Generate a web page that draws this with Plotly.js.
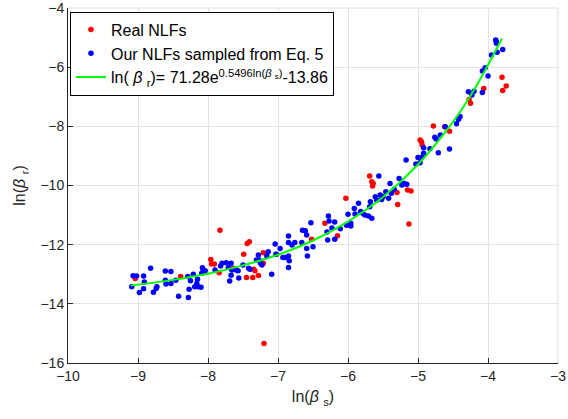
<!DOCTYPE html>
<html>
<head>
<meta charset="utf-8">
<script src="https://cdn.plot.ly/plotly-3.0.1.min.js"></script>
<style>
  html, body { margin: 0; padding: 0; background: #ffffff; }
  #chart { width: 568px; height: 419px; }
</style>
</head>
<body>
<div id="chart"></div>
<script>
// Real NLFs (red points): ln(beta_s), ln(beta_r)
const realX = [-9.04,-8.39,-7.96,-7.91,-7.95,-7.83,-7.84,-7.64,-7.49,-7.45,-7.44,-7.41,-7.36,-7.35,-7.33,-7.28,-7.21,-7.21,-7.20,-7.02,
  -6.52,-6.33,-6.15,-6.03,-5.69,-5.66,-5.65,-5.64,-5.30,-5.29,-5.15,-5.10,-5.13,-4.78,-4.97,-4.95,-4.94,-4.62,-4.55,-4.27,-4.25,-4.06,-3.80,-3.74,-3.79];
const realY = [-13.14,-13.08,-12.50,-12.65,-12.65,-11.51,-12.95,-12.80,-12.32,-13.11,-11.96,-11.90,-13.11,-12.83,-12.88,-13.04,-12.27,-12.63,-15.34,-12.32,
  -11.82,-11.28,-11.70,-10.43,-9.68,-9.87,-10.02,-9.93,-10.24,-10.64,-10.15,-10.19,-11.30,-7.99,-8.46,-8.52,-8.63,-8.01,-8.17,-7.09,-7.22,-6.72,-6.34,-6.64,-6.79];

// Our NLFs sampled from Eq. 5 (blue points)
const oursX = [-9.09,-9.07,-9.02,-8.92,-8.91,-8.92,-8.98,-8.82,-8.78,-8.74,-8.73,-8.61,-8.53,-8.60,-8.61,-8.53,-8.46,-8.42,-8.28,-8.27,
  -8.29,-8.25,-8.21,-8.19,-8.16,-8.14,-8.10,-8.15,-8.08,-8.09,-8.07,-8.04,-7.90,-7.82,-7.80,-7.74,-7.71,-7.69,-7.67,-7.67,
  -7.66,-7.60,-7.57,-7.56,-7.50,-7.42,-7.40,-7.31,-7.28,-7.27,-7.25,-7.23,-7.16,-7.14,-7.09,-7.03,-7.04,-6.97,-6.93,-6.90,
  -6.85,-6.85,-6.85,-6.84,-6.85,-6.80,-6.76,-6.66,-6.65,-6.61,-6.59,-6.59,-6.58,-6.53,-6.50,
  -6.28,-6.27,-6.19,-6.29,-6.19,-6.11,-6.02,-6.00,-5.96,-5.96,-5.91,-5.90,-5.85,-5.82,-5.79,-5.76,-5.71,-5.69,-5.68,-5.66,
  -5.61,-5.59,-5.56,-5.54,-5.52,-5.50,-5.46,-5.42,-5.40,-5.38,-5.34,-5.27,-5.23,-5.20,-5.17,-5.16,-5.03,-5.00,-4.95,-4.97,
  -4.92,-6.30,-6.23,
  -4.92,-4.83,-4.76,-4.74,-4.71,-4.68,-4.61,-4.55,-4.45,-4.42,-4.40,-4.28,-4.23,-4.20,-4.08,-4.08,-4.04,-4.00,-3.95,-3.89,
  -3.88,-3.88,-3.87,-3.79];
const oursY = [-13.42,-13.05,-13.06,-13.06,-13.26,-13.49,-13.62,-12.80,-13.61,-13.48,-13.42,-12.89,-12.91,-13.33,-13.20,-13.31,-13.20,-13.74,-13.79,-13.51,
  -13.08,-13.22,-13.00,-13.42,-13.31,-13.42,-13.44,-13.17,-12.78,-12.97,-12.89,-12.88,-12.86,-12.72,-12.63,-12.61,-12.77,-13.23,-12.63,-13.03,
  -12.86,-12.86,-12.88,-13.13,-12.69,-12.80,-12.83,-12.52,-12.35,-12.52,-12.63,-12.69,-12.38,-12.24,-13.00,-12.32,-11.98,-12.13,-12.43,-12.43,
  -11.71,-11.93,-12.38,-12.54,-12.77,-12.01,-11.93,-11.93,-11.51,-11.53,-11.67,-12.13,-12.38,-11.26,-12.07,
  -11.03,-11.20,-11.23,-11.84,-11.82,-11.46,-11.34,-10.97,-11.28,-11.37,-10.78,-10.96,-10.60,-10.88,-10.94,-11.00,-11.03,-10.72,-10.55,-11.11,
  -10.38,-10.49,-9.68,-10.32,-10.47,-10.38,-10.21,-10.43,-9.93,-10.26,-10.13,-9.76,-9.98,-9.93,-9.14,-9.96,-9.27,-9.05,-9.05,-9.23,
  -8.91,-11.57,-11.44,
  -8.72,-8.76,-8.37,-8.43,-8.89,-8.29,-8.01,-8.77,-7.91,-7.76,-7.67,-6.83,-6.94,-6.81,-6.13,-6.86,-6.02,-6.30,-5.59,-5.08,
  -5.14,-5.19,-5.50,-5.40];

// Fitted curve
const fitX = [-9.10,-8.50,-8.00,-7.50,-7.00,-6.50,-6.00,-5.50,-5.00,-4.50,-4.20,-3.80];
const fitY = [-13.38,-13.19,-12.98,-12.70,-12.34,-11.86,-11.22,-10.39,-9.29,-7.85,-6.77,-5.03];

const fitLabel = 'ln( <i>β</i> <sub>r</sub>)= 71.28e<sup>0.5496ln(<i>β</i> <sub>s</sub>)</sup>-13.86';

const axisColor = '#262626';
const gridColor = '#e3e3e3';

const traces = [
  { x: realX, y: realY, type: 'scatter', mode: 'markers', name: 'Real NLFs',
    marker: { color: '#ff0000', size: 5.5 } },
  { x: oursX, y: oursY, type: 'scatter', mode: 'markers', name: 'Our NLFs sampled from Eq. 5',
    marker: { color: '#0000ff', size: 5.5 } },
  { x: fitX, y: fitY, type: 'scatter', mode: 'lines', name: fitLabel,
    line: { color: '#00ff00', width: 2, shape: 'spline' } }
];

const layout = {
  width: 568, height: 419,
  margin: { l: 68, r: 10, t: 8, b: 56 },
  paper_bgcolor: '#ffffff', plot_bgcolor: '#ffffff',
  font: { family: 'Arial, "Liberation Sans", sans-serif', color: axisColor, size: 14 },
  showlegend: true,
  legend: {
    x: 0.004, y: 0.99, xanchor: 'left', yanchor: 'top',
    bgcolor: '#ffffff', bordercolor: '#000000', borderwidth: 1,
    font: { size: 16, color: '#000000' },
    itemwidth: 30, tracegroupgap: 0
  },
  shapes: [
    { type: 'line', xref: 'paper', yref: 'paper', x0: 0, x1: 1, y0: 1, y1: 1,
      line: { color: '#dcdcdc', width: 1 } },
    { type: 'line', xref: 'paper', yref: 'paper', x0: 1, x1: 1, y0: 0, y1: 1,
      line: { color: '#dcdcdc', width: 1 } }
  ],
  xaxis: {
    range: [-10, -3], dtick: 1, tick0: -10,
    showline: true, linecolor: axisColor, linewidth: 1,
    ticks: 'inside', ticklen: 5, tickcolor: axisColor,
    showgrid: true, gridcolor: gridColor, zeroline: false,
    ticklabeloverflow: 'allow',
    tickfont: { size: 14, color: axisColor },
    title: { text: 'ln(<i>β</i> <sub>s</sub>)', font: { size: 16, color: axisColor }, standoff: 8 }
  },
  yaxis: {
    range: [-16, -4], dtick: 2, tick0: -16,
    showline: true, linecolor: axisColor, linewidth: 1,
    ticks: 'inside', ticklen: 5, tickcolor: axisColor,
    showgrid: true, gridcolor: gridColor, zeroline: false,
    ticklabeloverflow: 'allow',
    tickfont: { size: 14, color: axisColor },
    title: { text: 'ln(<i>β</i> <sub>r</sub>)', font: { size: 16, color: axisColor }, standoff: 10 }
  }
};

Plotly.newPlot('chart', traces, layout, { displayModeBar: false, staticPlot: true });
</script>
</body>
</html>
